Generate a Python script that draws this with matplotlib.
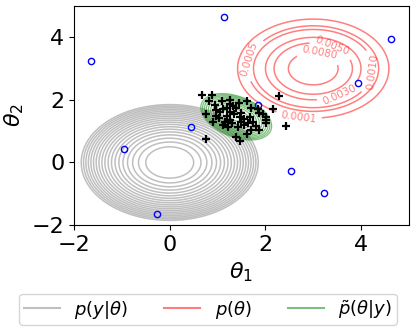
import numpy as np
import matplotlib
matplotlib.use('Agg')
import matplotlib.pyplot as plt
from matplotlib.lines import Line2D

# observations (blue open circles)
obs_x = [1.13, -1.65, 4.63, 3.93, 1.84, 0.44, -0.95, 2.53, 3.23, -0.26]
obs_y = [4.65, 3.25, 3.95, 2.55, 1.84, 1.14, 0.44, -0.26, -0.96, -1.66]

# posterior samples (black plus markers)
samp_x = [0.68, 0.89, 0.83, 1.10, 1.25, 1.26, 1.61, 2.29, 0.75, 0.97, 1.11, 1.26,
          1.39, 1.49, 1.70, 1.84, 2.15, 2.43, 0.75, 0.96, 1.04, 1.19, 1.25, 1.46,
          1.67, 1.86, 2.01, 2.01, 2.01, 1.11, 1.22, 1.42, 1.49, 1.70, 1.86, 1.63,
          1.39, 1.46, 1.61, 0.90, 1.32, 1.05, 1.35, 1.55, 1.30, 1.15, 1.55, 1.75,
          1.80, 1.95, 1.45, 1.20, 0.95]
samp_y = [2.16, 2.16, 1.95, 1.95, 2.00, 1.87, 1.95, 2.11, 1.54, 1.68, 1.70, 1.62,
          1.73, 1.59, 1.73, 1.70, 1.70, 1.17, 0.74, 1.48, 1.41, 1.48, 1.35, 1.46,
          1.46, 1.57, 1.46, 1.35, 1.27, 1.19, 1.14, 1.14, 1.30, 1.05, 1.03, 1.25,
          0.80, 0.69, 0.92, 1.30, 1.80, 1.60, 1.55, 1.40, 1.25, 1.30, 1.20, 1.30,
          1.15, 1.55, 1.90, 1.75, 1.85]

# prior contour levels and labels
prior_levels = [0.0001, 0.0005, 0.0010, 0.0030, 0.0050, 0.0080]
prior_label_angles_deg = [-101, 167, -5, -57, 61, 76]
prior_center = (3.0, 3.0)
prior_peak = 0.0094
prior_rate = 1.15

lik_center = (0.0, 0.0)
post_center = (1.39, 1.46)
post_sd = 0.37
post_rho = -0.40

legend_labels = [r'$p(y|\theta)$', r'$p(\theta)$', r'$\tilde{p}(\theta|y)$']

xs = np.linspace(-2, 5, 500)
ys = np.linspace(-2, 5, 500)
X, Y = np.meshgrid(xs, ys)

fig = plt.figure(figsize=(4.16, 3.32), dpi=100)
ax = fig.add_axes([0.178, 0.322, 0.805, 0.660])

# likelihood (gray)
L = -((X - lik_center[0])**2 + (Y - lik_center[1])**2) / 2
ax.contour(X, Y, L, levels=np.linspace(-1.71, -0.125, 19), colors='gray',
           alpha=0.5, linewidths=1.1, linestyles='solid')

# prior (red)
R = np.sqrt((X - prior_center[0])**2 + (Y - prior_center[1])**2)
P = prior_peak * np.exp(-prior_rate * R**3)
cs = ax.contour(X, Y, P, levels=prior_levels, colors='red', alpha=0.5,
                linewidths=1.1, linestyles='solid')
pos = []
for lev, ang in zip(prior_levels, prior_label_angles_deg):
    r = (np.log(prior_peak / lev) / prior_rate) ** (1 / 3)
    a = np.deg2rad(ang)
    pos.append((prior_center[0] + r * np.cos(a), prior_center[1] + r * np.sin(a)))
ax.clabel(cs, fmt='%.4f', fontsize=7.5, manual=pos, inline=True)

# posterior approx (green)
dx = (X - post_center[0]) / post_sd
dy = (Y - post_center[1]) / post_sd
D2 = (dx**2 - 2 * post_rho * dx * dy + dy**2) / (1 - post_rho**2)
ax.contour(X, Y, -D2 / 2, levels=np.linspace(-2.0, -0.08, 11), colors='green',
           alpha=0.5, linewidths=0.9, linestyles='solid')

ax.plot(obs_x, obs_y, 'o', mfc='none', mec='blue', ms=4.5, mew=1.0)
ax.plot(samp_x, samp_y, '+', color='black', ms=5.5, mew=1.6)

ax.set_xlim(-2, 5)
ax.set_ylim(-2, 5)
ax.set_xticks([-2, 0, 2, 4])
ax.set_yticks([-2, 0, 2, 4])
ax.tick_params(labelsize=16)
ax.set_xlabel(r'$\theta_1$', fontsize=16)
ax.set_ylabel(r'$\theta_2$', fontsize=16)

handles = [Line2D([], [], color='gray', alpha=0.5),
           Line2D([], [], color='red', alpha=0.5),
           Line2D([], [], color='green', alpha=0.5)]
fig.legend(handles, legend_labels, loc='lower center', bbox_to_anchor=(0.5, 0.021),
           borderaxespad=0.0, borderpad=0.25, ncol=3, fontsize=13, columnspacing=2.0)

fig.savefig('out.png', dpi=100)
